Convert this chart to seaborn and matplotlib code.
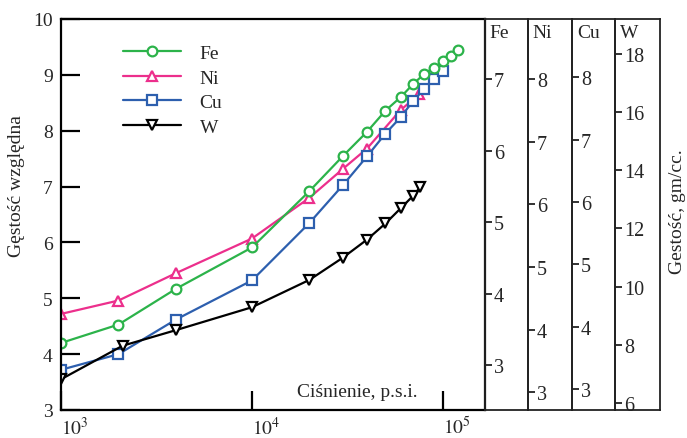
import numpy as np
import pandas as pd
import matplotlib
matplotlib.use("Agg")
import matplotlib.pyplot as plt
import seaborn as sns
from matplotlib.legend_handler import HandlerLine2D

# ---------------- data ----------------
fe_p = [1e3, 2e3, 4e3, 1e4, 2e4, 3e4, 4e4, 5e4, 6e4, 7e4, 8e4, 9e4, 1e5, 1.1e5, 1.2e5]
fe_d = [4.20, 4.53, 5.17, 5.91, 6.92, 7.55, 7.98, 8.36, 8.60, 8.84, 9.02, 9.13, 9.24, 9.33, 9.44]

ni_p = [1e3, 2e3, 4e3, 1e4, 2e4, 3e4, 4e4, 6e4, 7.5e4]
ni_d = [4.72, 4.96, 5.45, 6.07, 6.80, 7.32, 7.68, 8.37, 8.65]

cu_p = [1e3, 2e3, 4e3, 1e4, 2e4, 3e4, 4e4, 5e4, 6e4, 7e4, 8e4, 9e4, 1e5]
cu_d = [3.72, 4.00, 4.62, 5.32, 6.35, 7.03, 7.54, 7.95, 8.24, 8.54, 8.75, 8.92, 9.07]

w_p = [1e3, 2.1e3, 4e3, 1e4, 2e4, 3e4, 4e4, 5e4, 6e4, 7e4, 7.6e4]
w_d = [3.55, 4.15, 4.43, 4.84, 5.33, 5.73, 6.05, 6.34, 6.61, 6.84, 6.99]

left_ticks = [3, 4, 5, 6, 7, 8, 9, 10]
x_ticks = [1e3, 1e4, 1e5]
x_ticklabels = ["$10^3$", "$10^4$", "$10^5$"]

fe_ticks = [3, 4, 5, 6, 7]
ni_ticks = [3, 4, 5, 6, 7, 8]
cu_ticks = [3, 4, 5, 6, 7, 8]
w_ticks = [6, 8, 10, 12, 14, 16, 18]

# ---------------- style ----------------
sns.set_style("ticks")
plt.rcParams["font.family"] = ["Liberation Serif", "DejaVu Serif"]
plt.rcParams["mathtext.fontset"] = "stix"

W_PX, H_PX = 687, 439
fig = plt.figure(figsize=(W_PX / 100, H_PX / 100), dpi=100)

def fx(px):
    return px / W_PX

def fy(py):
    return 1 - py / H_PX

top_px, bot_px = 20, 411
ax = fig.add_axes([fx(61), fy(bot_px), fx(485) - fx(61), fy(top_px) - fy(bot_px)])

GREEN = "#2cb34a"
PINK = "#ec2f8c"
BLUE = "#2d5fae"
BLACK = "#000000"

series = [
    ("Ni", ni_p, ni_d, PINK, "^"),
    ("Cu", cu_p, cu_d, BLUE, "s"),
    ("Fe", fe_p, fe_d, GREEN, "o"),
    ("W", w_p, w_d, BLACK, "v"),
]
ax.set_xscale("log")
handles = {}
for name, p, d, col, mk in series:
    df = pd.DataFrame({"p": p, "d": d})
    sns.lineplot(data=df, x="p", y="d", ax=ax, color=col, lw=1.6,
                 marker=mk, markersize=7 if mk != "s" else 6.5,
                 markerfacecolor="white", markeredgecolor=col,
                 markeredgewidth=1.6, label=name, legend=False)
    handles[name] = ax.get_lines()[-1]

ax.set_xlim(1e3, 10 ** 5.22)
ax.set_ylim(3, 10)
ax.set_xticks(x_ticks)
ax.set_xticklabels(x_ticklabels, ha="left")
ax.xaxis.set_minor_locator(matplotlib.ticker.NullLocator())
ax.set_yticks(left_ticks)
ax.tick_params(axis="both", direction="in", length=14, width=1.6, labelsize=14, color="black")
ax.tick_params(axis="y", pad=6)
ax.tick_params(axis="x", pad=4)
ax.set_xlabel("")
ax.set_ylabel("")
for s in ax.spines.values():
    s.set_linewidth(1.6)
    s.set_color("black")

ax.text(0.698, 0.048, "Ciśnienie, p.s.i.", transform=ax.transAxes,
        ha="center", va="center", fontsize=14)

# legend with marker at end of line
class EndMarkerHandler(HandlerLine2D):
    def get_xdata(self, legend, xdescent, ydescent, width, height, fontsize):
        xdata = np.array([-xdescent, -xdescent + width])
        xm = np.array([-xdescent + width - 3.0])
        return xdata, xm

order = ["Fe", "Ni", "Cu", "W"]
ax.legend([handles[n] for n in order], order, loc="upper left",
          bbox_to_anchor=(0.146, 0.935), frameon=False, fontsize=14,
          handlelength=3.0, handletextpad=0.95, labelspacing=0.36,
          borderpad=0, borderaxespad=0, numpoints=1,
          handler_map={matplotlib.lines.Line2D: EndMarkerHandler()})

# right-side density panels
panels = [
    ("Fe", 485, 528, (2.371, 7.839), fe_ticks),
    ("Ni", 528, 572, (2.718, 8.957), ni_ticks),
    ("Cu", 572, 615, (2.663, 8.936), cu_ticks),
    ("W", 615, 660, (5.76, 19.2), w_ticks),
]
for name, x0, x1, lim, ticks in panels:
    pa = fig.add_axes([fx(x0), fy(bot_px), fx(x1) - fx(x0), fy(top_px) - fy(bot_px)])
    pa.set_facecolor("none")
    pa.set_ylim(*lim)
    pa.set_xticks([])
    pa.set_yticks(ticks)
    pa.set_yticklabels([str(t) for t in ticks], ha="left")
    pa.tick_params(axis="y", direction="in", length=5, width=1.3, pad=-6.5,
                   labelsize=14.5, color="#222222")
    for s in pa.spines.values():
        s.set_linewidth(1.3)
        s.set_color("#222222")
    pa.annotate(name, xy=(0, 1), xycoords="axes fraction", xytext=(3.5, -3.5),
                textcoords="offset points", ha="left", va="top", fontsize=14)

fig.text(fx(17), fy(186), "Gęstość względna", rotation=90, ha="center", va="center", fontsize=14)
fig.text(fx(677), fy(212), "Gestość, gm/cc.", rotation=90, ha="center", va="center", fontsize=14)

fig.savefig("out.png", dpi=100)
